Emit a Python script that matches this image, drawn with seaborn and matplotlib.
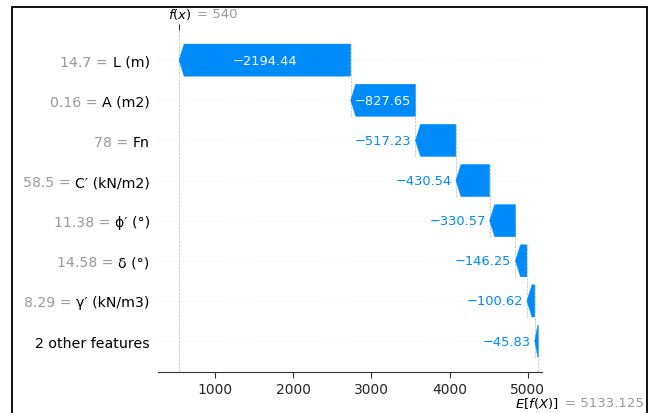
import numpy as np
import matplotlib
matplotlib.use("Agg")
import matplotlib.pyplot as plt
import seaborn as sns
from matplotlib.patches import FancyArrow, Rectangle

# ---------------- data (top row first) ----------------
feature_names = ["L (m)", "A (m2)", "Fn", "C\u2032 (kN/m2)", "\u03d5\u2032 (\u00b0)",
                 "\u03b4 (\u00b0)", "\u03b3\u2032 (kN/m3)", "2 other features"]
feature_values = ["14.7", "0.16", "78", "58.5", "11.38", "14.58", "8.29", ""]
shap_values = [-2194.44, -827.65, -517.23, -430.54, -330.57, -146.25, -100.62, -45.83]
base_value = 5133.125
fx_value = 540
x_ticks = [1000, 2000, 3000, 4000, 5000]

sns.set_style("white")
plt.rcParams["font.family"] = ["DejaVu Sans"]

BLUE = "#008bfb"
GRAY = "#999999"

W, H = 651, 414
fig = plt.figure(figsize=(W / 100, H / 100), dpi=100)
ax_l, ax_r, ax_t, ax_b = 158, 542, 31, 373
ax = fig.add_axes([ax_l / W, 1 - ax_b / H, (ax_r - ax_l) / W, (ax_b - ax_t) / H])

n = len(shap_values)
ypos = np.arange(n)[::-1]
vals = np.array(shap_values)
ends = base_value + np.cumsum(vals[::-1])[::-1]
starts = ends - vals

ax.set_xlim(272, 5180)
ax.set_ylim(-0.77, 7.75)

# dotted row lines
for y in ypos:
    ax.axhline(y, color="#cccccc", lw=0.5, dashes=(1, 5), zorder=-1)

# connector lines
for i in range(n - 1):
    ax.plot([starts[i], starts[i]], [ypos[i + 1] - 0.4, ypos[i] + 0.4],
            color="#bbbbbb", ls="--", lw=0.5, zorder=-1)
ax.plot([base_value, base_value], [-0.77, ypos[-1]], color="#bbbbbb", ls="--", lw=0.5, zorder=-1)
ax.axvline(fx_value, 0, 1, color="#bbbbbb", ls="--", lw=0.5, zorder=-1)

# arrows
hls = []
for i in range(n):
    dx = vals[i]
    hl = min(abs(dx) * 0.85, 65)
    hls.append(hl)
    arr = FancyArrow(starts[i], ypos[i], dx, 0, width=0.8, head_width=0.8,
                     head_length=hl, length_includes_head=True,
                     facecolor=BLUE, edgecolor=BLUE, lw=0.3)
    ax.add_patch(arr)

# axes styling
sns.despine(ax=ax, left=True, top=True, right=True)
ax.spines["bottom"].set_color("#333333")
ax.set_xticks(x_ticks)
ax.set_xticklabels([str(t) for t in x_ticks])
ax.tick_params(axis="x", labelsize=10, length=4, color="#333333", pad=3)
ax.set_yticks(ypos)
ax.set_yticklabels(feature_names, fontsize=10.2, color="black")
ax.tick_params(axis="y", length=0, pad=6)

fig.canvas.draw()
renderer = fig.canvas.get_renderer()

# gray "value = " prefixes placed just left of each feature name
pad_px = 6 * fig.dpi / 72
for lab, y, v in zip(ax.get_yticklabels(), ypos, feature_values):
    if v:
        wname = lab.get_window_extent(renderer).width
        ax.annotate(v + " =", xy=(0, y), xycoords=("axes fraction", "data"),
                    xytext=(-(pad_px + wname + 4.5), 0), textcoords="offset pixels",
                    ha="right", va="center_baseline", fontsize=10.2, color=GRAY)

# value labels
for i in range(n):
    label = f"{vals[i]:.2f}".replace("-", "\u2212")
    mid = (starts[i] + ends[i]) / 2
    txt = ax.text(mid, ypos[i], label, ha="center", va="center", color="white", fontsize=9.4)
    bb = txt.get_window_extent(renderer)
    x0 = ax.transData.transform((ends[i], 0))[0]
    x1 = ax.transData.transform((starts[i], 0))[0]
    hlp = ax.transData.transform((hls[i], 0))[0] - ax.transData.transform((0, 0))[0]
    if bb.width > abs(x1 - x0) - hlp:
        txt.remove()
        ax.annotate(label, xy=(ends[i], ypos[i]), xytext=(-4, 0), textcoords="offset pixels",
                    ha="right", va="center", color=BLUE, fontsize=9.4)

# top tick for f(x)
ax3 = ax.twiny()
ax3.set_xlim(ax.get_xlim())
ax3.set_xticks([fx_value])
ax3.set_xticklabels([""])
ax3.tick_params(axis="x", length=4, color="#333333")
for s in ax3.spines.values():
    s.set_visible(False)

ax.annotate("$f(x)$", xy=(fx_value, 1), xycoords=("data", "axes fraction"),
            xytext=(-11, 16), textcoords="offset pixels", ha="left", va="center",
            fontsize=9.5, color="black")
ax.annotate(f"= {fx_value}", xy=(fx_value, 1), xycoords=("data", "axes fraction"),
            xytext=(18, 16), textcoords="offset pixels", ha="left", va="center",
            fontsize=9.5, color=GRAY)
ax.annotate("$E[f(X)]$", xy=(base_value, 0), xycoords=("data", "axes fraction"),
            xytext=(-23, -31), textcoords="offset pixels", ha="left", va="center",
            fontsize=9.5, color="black", annotation_clip=False)
ax.annotate(f"= {base_value:.3f}", xy=(base_value, 0), xycoords=("data", "axes fraction"),
            xytext=(27, -31), textcoords="offset pixels", ha="left", va="center",
            fontsize=9.5, color=GRAY, annotation_clip=False)

# outer frame of the screenshot
fig.add_artist(Rectangle((11.5 / W, -0.1), (646.5 - 11.5) / W, (H - 7.5) / H + 0.1,
                         transform=fig.transFigure, fill=False, lw=1.3, ec="black"))

fig.savefig("out.png", dpi=100)
